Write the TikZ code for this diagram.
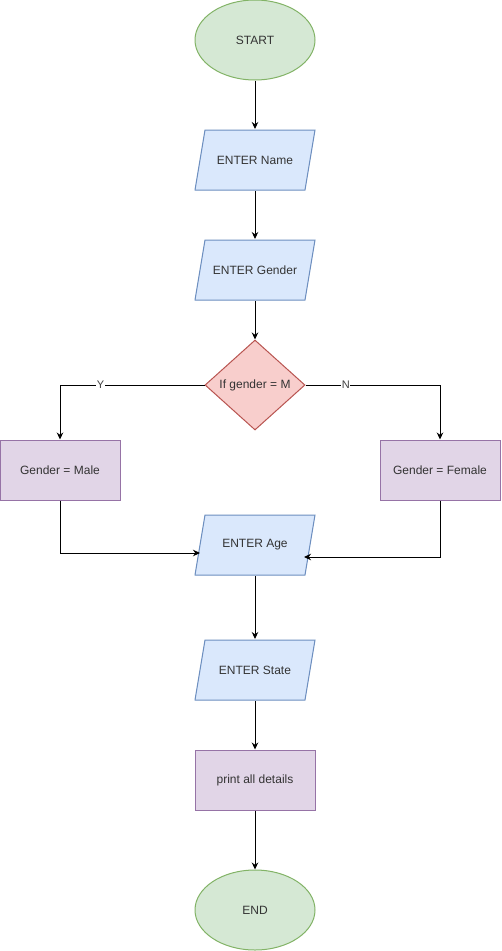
\documentclass[tikz,border=0pt]{standalone}
\usepackage{fontspec}
\setmainfont{Liberation Sans}
\usepackage{xcolor}
\usetikzlibrary{shapes, arrows.meta, positioning, calc}

\definecolor{termfill}{HTML}{D5E8D4}
\definecolor{termline}{HTML}{82B366}
\definecolor{iofill}{HTML}{DAE8FC}
\definecolor{ioline}{HTML}{6C8EBF}
\definecolor{decfill}{HTML}{F8CECC}
\definecolor{decline}{HTML}{B85450}
\definecolor{procfill}{HTML}{E1D5E7}
\definecolor{procline}{HTML}{9673A6}

\tikzset{
    terminal/.style={ellipse, draw=termline, fill=termfill, minimum width=120pt, minimum height=80pt},
    inout/.style={rectangle, minimum width=121pt, minimum height=61pt,
        path picture={
            \draw[ioline, fill=iofill, line width=1pt]
                ($(path picture bounding box.north west)+(10.5pt,-0.5pt)$) --
                ($(path picture bounding box.north east)+(-0.5pt,-0.5pt)$) --
                ($(path picture bounding box.south east)+(-10.5pt,0.5pt)$) --
                ($(path picture bounding box.south west)+(0.5pt,0.5pt)$) -- cycle;
        }},
    decision/.style={diamond, draw=decline, fill=decfill, minimum width=100pt, minimum height=90pt, inner sep=0pt},
    process/.style={rectangle, draw=procline, fill=procfill, minimum width=120pt, minimum height=60pt},
    branch/.style={fill=white, inner sep=0.5pt, font=\fontsize{11}{12}\selectfont, text=black!75}
}

\begin{document}
\begin{tikzpicture}[x=1pt, y=-1pt, >={Stealth[length=7pt,width=6.5pt]}, line width=1pt,
    every node/.style={font=\fontsize{12}{14}\selectfont, text=black!80}]
                \useasboundingbox (0,0) rectangle (501,951);

                \node[terminal] (start) at (255,40) {START};
                \node[inout] (name) at (255,160) {ENTER Name};
                \node[inout] (gender) at (255,270) {ENTER Gender};
                \node[decision] (test) at (255,385) {If gender = M};

                \node[process] (male) at (60,470) {Gender = Male};
                \node[process] (female) at (440,470) {Gender = Female};

                \node[inout] (age) at (255,545) {ENTER Age};
                \node[inout] (state) at (255,670) {ENTER State};
                \node[process] (print) at (255,780) {print all details};
                \node[terminal] (end) at (255,910) {END};

                \draw[->] (start) to (name);
                \draw[->] (name) to (gender);
                \draw[->] (gender) to (test);
                \draw[->] (test.west) -| node[branch, pos=0.36] {Y} (male.north);
                \draw[->] (test.east) -| node[branch, pos=0.15] {N} (female.north);
                \draw[->] (male.south) |- ([yshift=-8pt, xshift=6pt]age.west);
                \draw[->] (female.south) |- ([yshift=-12pt, xshift=-12pt]age.east);
                \draw[->] (age) to (state);
                \draw[->] (state) to (print);
                \draw[->] (print) to (end);
            \end{tikzpicture}
\end{document}
